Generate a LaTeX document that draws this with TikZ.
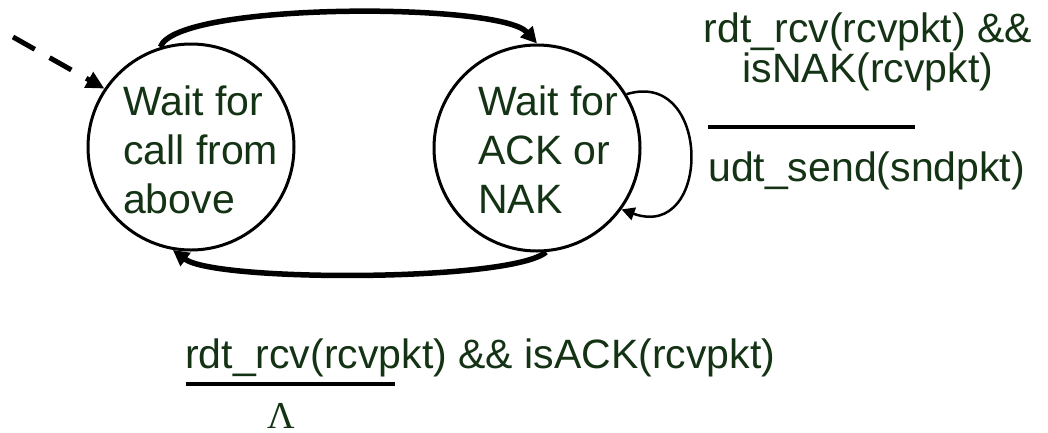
\documentclass[tikz,border=0pt]{standalone}
\usepackage{fontspec}
\setmainfont{Liberation Sans}
\newfontfamily\lamfont{Liberation Serif}
\usetikzlibrary{arrows.meta}
\definecolor{txt}{RGB}{20,50,20}
\begin{document}
\begin{tikzpicture}[x=1pt,y=-1pt,
  state/.style={circle, draw, line width=3pt, minimum size=206pt, inner sep=0pt},
  lbl/.style={text=txt, font=\fontsize{41}{49}\selectfont, inner sep=0pt},
  bigarc/.style={line width=5.5pt, -{Triangle[length=16pt,width=16pt]}},
  selfloop/.style={line width=2.5pt, -{Triangle[length=13pt,width=13pt]}},
  initarrow/.style={line width=5pt, dash pattern=on 25pt off 17pt, -{Triangle[length=18pt,width=17pt]}},
  guardbar/.style={line width=4pt}]
\useasboundingbox (0,0) rectangle (1048,432);

\node[state] (L) at (191,147) {};
\node[state] (R) at (537,148) {};

\node[lbl, anchor=base west, align=left] (Lt) at (123,213) {Wait for\\call from\\above};
\node[lbl, anchor=base west, align=left] (Rt) at (478,213) {Wait for\\ACK or\\NAK};

\draw[bigarc] (L.107) .. controls (175,2) and (500,2) .. (R.90);
\draw[bigarc] (R.-85) .. controls (510,282) and (215,282) .. (L.-100);
\draw[selfloop] (R.31) .. controls (712,68) and (712,242) .. (R.-36);

\coordinate (init) at (13,37);
\draw[initarrow] (init) -- (L.146);

\node[lbl, anchor=base] (nak1) at (868,42) {rdt\_rcv(rcvpkt) \&\&};
\node[lbl, anchor=base] (nak2) at (868,82) {isNAK(rcvpkt)};
\draw[guardbar] (708,127) -- (915,127);
\node[lbl, anchor=base west] (snd) at (708,181) {udt\_send(sndpkt)};

\node[lbl, anchor=base west] (ack) at (185,368) {rdt\_rcv(rcvpkt) \&\& isACK(rcvpkt)};
\draw[guardbar] (186,384) -- (395,384);
\node[lbl, anchor=base, font=\fontsize{38}{40}\selectfont] (lam) at (281,428) {\lamfont Λ};
\end{tikzpicture}
\end{document}
